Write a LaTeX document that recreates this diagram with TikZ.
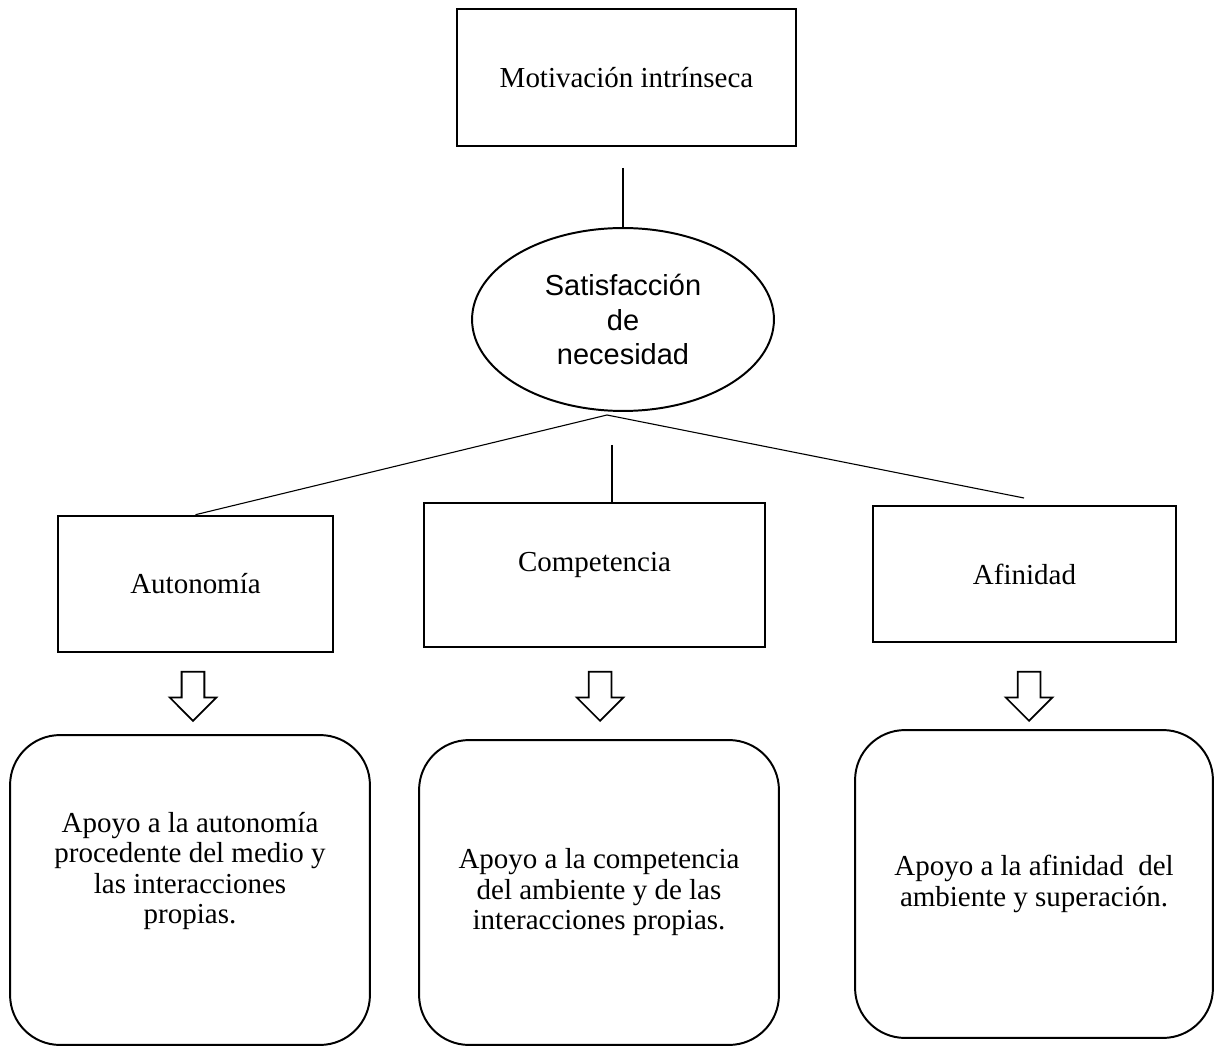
\documentclass[tikz,border=0pt]{standalone}
\usepackage{fontspec}
\setmainfont{Liberation Serif}
\newfontfamily\arialfont{Liberation Sans}
\usetikzlibrary{shapes.geometric,shapes.arrows}

\begin{document}
\begin{tikzpicture}[x=0.016cm, y=-0.016cm,
    font=\fontsize{13.2}{13.9}\selectfont,
    framebox/.style={draw, line width=1.2pt, inner sep=0pt},
    roundbox/.style={draw, line width=0.9pt, rounded corners=0.8cm, minimum width=5.76cm, inner sep=0pt, align=center},
    downarrow/.style={draw, single arrow, shape border rotate=270, line width=0.8pt, minimum width=0.72cm,
      minimum height=0.784cm, inner sep=0.168cm, single arrow head extend=0.192cm, anchor=tip},
    link/.style={line width=0.5pt}]
          \useasboundingbox (0,0) rectangle (1215,1046);

          \node[framebox, minimum width=5.424cm, minimum height=2.192cm] (motiv) at (626.5,77.5) {Motivación intrínseca};
          \node[draw, ellipse, line width=0.9pt, minimum width=4.832cm, minimum height=2.928cm, inner sep=0pt, align=center,
            font=\arialfont\fontsize{13.2}{15.9}\selectfont] (satis) at (623,319.5) {Satisfacción\\de\\necesidad};

          \node[framebox, minimum width=4.4cm, minimum height=2.176cm] (auto) at (195.5,584) {Autonomía};
          \node[framebox, line width=0.6pt, minimum width=5.456cm, minimum height=2.304cm] (comp) at (594.5,575) {\raisebox{0.16cm}[\height][\depth]{Competencia}};
          \node[framebox, minimum width=4.848cm, minimum height=2.176cm] (afin) at (1024.5,574) {Afinidad};

          \coordinate (motivend) at (623,168);
          \coordinate (split) at (607,415);
          \coordinate (comptop) at (612,445);
          \coordinate (afinend) at (1024,498);

          \draw[link] (motivend) -- (satis.north);
          \draw[link] (split) -- (auto.north);
          \draw[link] (split) -- (afinend);
          \draw[link] (comptop) -- (comptop |- comp.north);

          \node[downarrow] (arrauto) at (193,722) {};
          \node[downarrow] (arrcomp) at (600,722) {};
          \node[downarrow] (arrafin) at (1029,722) {};

          \node[roundbox, minimum height=4.96cm] (apauto) at (190,890) {};
          \node[align=center] (apautotext) at (190,871) {Apoyo a la autonomía\\procedente del medio y\\las interacciones\\propias.};
          \node[roundbox, minimum height=4.88cm] (apcomp) at (599,892.5) {Apoyo a la competencia\\del ambiente y de las\\interacciones propias.};
          \node[roundbox, minimum width=5.728cm, minimum height=4.928cm] (apafin) at (1034,884) {Apoyo a la afinidad~ del\\ambiente y superación.};
        \end{tikzpicture}
\end{document}
